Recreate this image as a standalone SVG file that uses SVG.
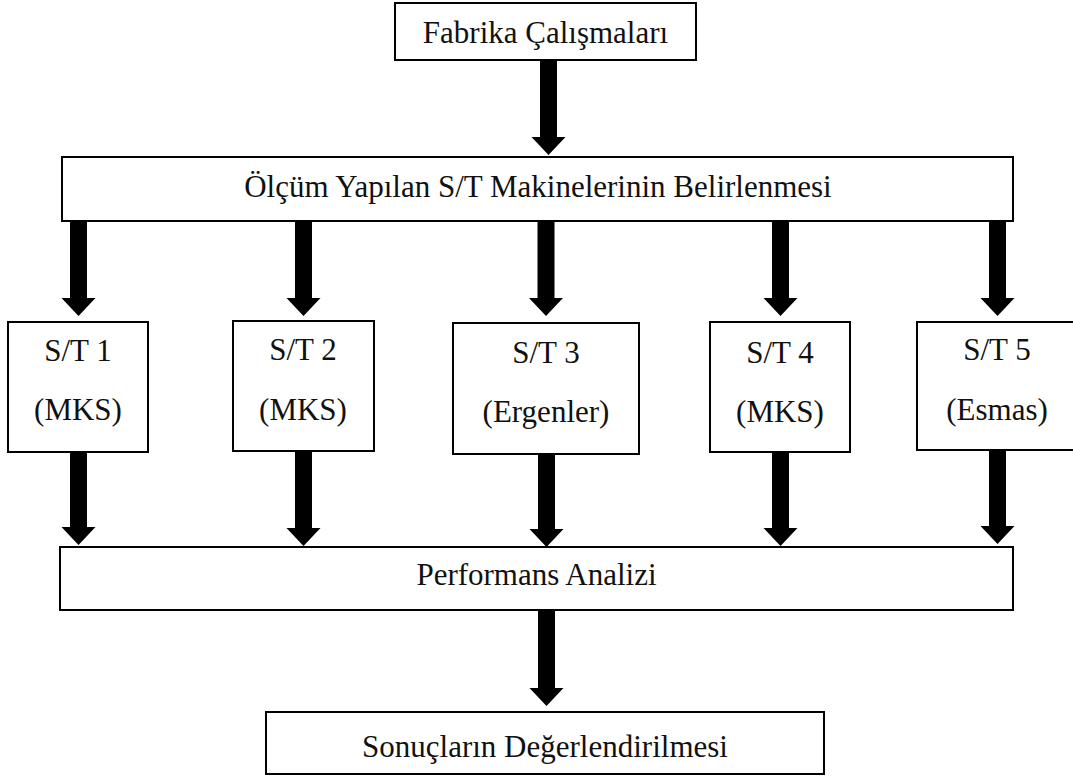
<svg xmlns="http://www.w3.org/2000/svg" width="1073" height="776" viewBox="0 0 1073 776">
<style>
.box{fill:#fff;stroke:#000;stroke-width:2}
.t{font-family:"Liberation Serif","Times New Roman",serif;font-size:31px;fill:#111;text-anchor:middle}
.arr{fill:#000}
</style>
<defs>
<path id="arrow" d="M-8.5,0 H8.5 V77 H17 L0,95 L-17,77 H-8.5 Z"/>
</defs>
<rect width="1073" height="776" fill="#fff"/>
<g id="connectors" class="arr">
<use href="#arrow" x="548.5" y="60"/>
<use href="#arrow" x="78.5" y="221"/>
<use href="#arrow" x="303.5" y="221"/>
<use href="#arrow" x="546" y="221"/>
<use href="#arrow" x="780.5" y="221"/>
<use href="#arrow" x="997.5" y="221"/>
<use href="#arrow" x="78.5" y="450"/>
<use href="#arrow" x="303.5" y="451"/>
<use href="#arrow" x="546.5" y="452"/>
<use href="#arrow" x="780.5" y="451"/>
<use href="#arrow" x="997.5" y="449"/>
<use href="#arrow" x="546.5" y="611"/>
</g>
<g id="fabrika"><rect class="box" x="395" y="3" width="301" height="57"/><text class="t" x="545.5" y="43">Fabrika Çalışmaları</text></g>
<g id="olcum"><rect class="box" x="62" y="157" width="951" height="64"/><text class="t" x="538" y="197">Ölçüm Yapılan S/T Makinelerinin Belirlenmesi</text></g>
<g id="st1"><rect class="box" x="8" y="322" width="140" height="130"/><text class="t" x="78" y="361">S/T 1</text><text class="t" x="78" y="420">(MKS)</text></g>
<g id="st2"><rect class="box" x="233" y="321" width="141" height="130"/><text class="t" x="303" y="360">S/T 2</text><text class="t" x="303" y="420">(MKS)</text></g>
<g id="st3"><rect class="box" x="453" y="323" width="186" height="131"/><text class="t" x="546" y="363">S/T 3</text><text class="t" x="546" y="422">(Ergenler)</text></g>
<g id="st4"><rect class="box" x="710" y="322" width="140" height="130"/><text class="t" x="780" y="363">S/T 4</text><text class="t" x="780" y="422">(MKS)</text></g>
<g id="st5"><rect class="box" x="917" y="322" width="160" height="128"/><text class="t" x="997" y="360">S/T 5</text><text class="t" x="997" y="420">(Esmas)</text></g>
<g id="performans"><rect class="box" x="60" y="547" width="953" height="63"/><text class="t" x="536.5" y="585">Performans Analizi</text></g>
<g id="sonuc"><rect class="box" x="266" y="712" width="558" height="62"/><text class="t" x="545" y="757">Sonuçların Değerlendirilmesi</text></g>
</svg>
